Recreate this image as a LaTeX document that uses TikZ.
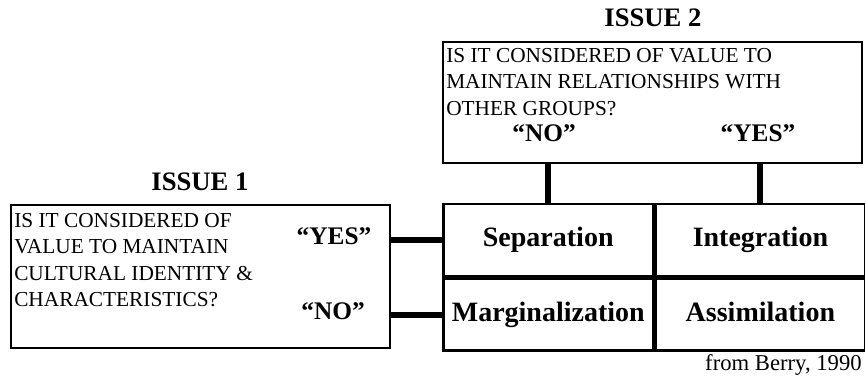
\documentclass[tikz,border=0pt]{standalone}
\usepackage{fontspec}
\setmainfont{Liberation Serif}
\usetikzlibrary{positioning}
\begin{document}
\begin{tikzpicture}[x=0.75pt,y=-0.75pt,
  q_box/.style={draw,line width=2pt,inner sep=0pt},
  cell_node/.style={draw,line width=2pt,minimum width=157.125pt,minimum height=54pt,inner sep=0pt,text height=14pt,text depth=4.5pt,font=\fontsize{21}{25}\selectfont\bfseries},
  q_text/.style={align=left,inner sep=0pt,anchor=north west,font=\fontsize{16}{19.8}\selectfont},
  answer/.style={inner sep=0pt,font=\fontsize{19}{23}\selectfont\bfseries},
  title_node/.style={inner sep=0pt,font=\fontsize{20}{24}\selectfont\bfseries},
  link_line/.style={line width=4.5pt}]

		\useasboundingbox (0,0) rectangle (865,380);

		\node[q_box,minimum width=284.25pt,minimum height=107.25pt] (issue1) at (200.5,276.5) {};
		\node[q_box,minimum width=314.25pt,minimum height=90.75pt] (issue2) at (652.5,102.5) {};

		\node[title_node] (title1) at (200,182) {ISSUE 1};
		\node[title_node] (title2) at (653,18) {ISSUE 2};

		\node[q_text] (text1) at (14,213) {IS IT CONSIDERED OF\\VALUE TO MAINTAIN\\CULTURAL IDENTITY \&\\CHARACTERISTICS?};
		\node[q_text] (text2) at (446,48) {IS IT CONSIDERED OF VALUE TO\\MAINTAIN RELATIONSHIPS WITH\\OTHER GROUPS?};

		\node[answer] (yes1) at (334,236) {“YES”};
		\node[answer] (no1) at (333,311) {“NO”};
		\node[answer] (no2) at (544,133) {“NO”};
		\node[answer] (yes2) at (758,133) {“YES”};

		\node[cell_node] (sep) at (548.25,240) {Separation};
		\node[cell_node,right=0pt of sep] (integ) {Integration};
		\node[cell_node,below=0pt of sep] (marg) {Marginalization};
		\node[cell_node,right=0pt of marg] (assim) {Assimilation};

		\draw[link_line] (issue1.east |- sep.west) -- (sep.west);
		\draw[link_line] (issue1.east |- marg.west) -- (marg.west);
		\draw[link_line] (issue2.south -| sep.north) -- (sep.north);
		\draw[link_line] (issue2.south -| integ.north) -- (integ.north);

		\node[inner sep=0pt,anchor=east,font=\fontsize{17}{20}\selectfont] (source) at (862,365) {from Berry, 1990};
		\end{tikzpicture}
\end{document}
